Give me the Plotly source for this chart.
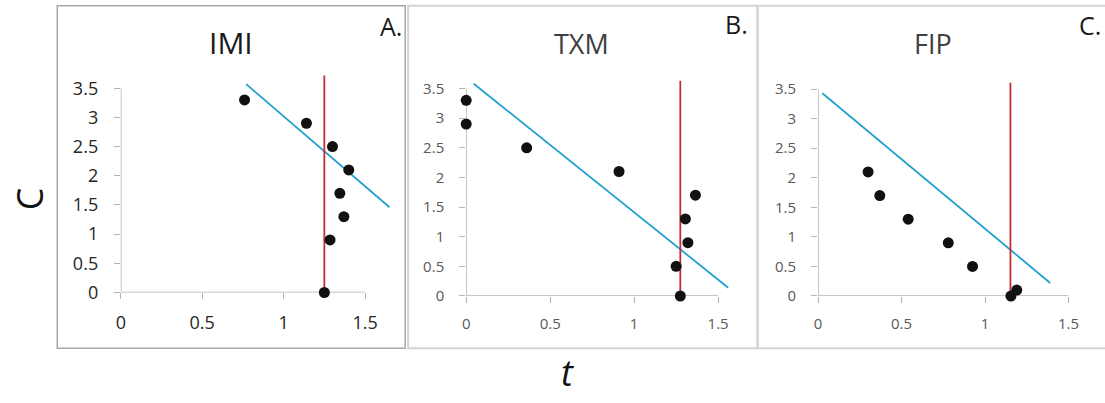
import plotly.graph_objects as go

W, H = 1105, 403

# ---------------- data ----------------
imi_t = [0.76, 1.14, 1.30, 1.40, 1.345, 1.37, 1.285, 1.25]
imi_C = [3.3, 2.9, 2.5, 2.1, 1.7, 1.3, 0.9, 0.0]
imi_red_t = [1.25, 1.25]
imi_red_C = [0.0, 3.72]
imi_blue_t = [0.77, 1.65]
imi_blue_C = [3.57, 1.46]

txm_t = [0.0, 0.0, 0.36, 0.91, 1.365, 1.305, 1.32, 1.25, 1.275]
txm_C = [3.3, 2.9, 2.5, 2.1, 1.7, 1.3, 0.9, 0.5, 0.0]
txm_red_t = [1.275, 1.275]
txm_red_C = [0.0, 3.63]
txm_blue_t = [0.045, 1.56]
txm_blue_C = [3.58, 0.14]

fip_t = [0.30, 0.37, 0.54, 0.78, 0.925, 1.155, 1.19]
fip_C = [2.1, 1.7, 1.3, 0.9, 0.5, 0.0, 0.1]
fip_red_t = [1.152, 1.152]
fip_red_C = [0.0, 3.61]
fip_blue_t = [0.026, 1.39]
fip_blue_C = [3.43, 0.22]

x_ticks = [0, 0.5, 1, 1.5]
x_ticklabels = ["0", "0.5", "1", "1.5"]
y_ticks = [0, 0.5, 1, 1.5, 2, 2.5, 3, 3.5]
y_ticklabels = ["0", "0.5", "1", "1.5", "2", "2.5", "3", "3.5"]

titles = ["IMI", "TXM", "FIP"]
letters = ["A.", "B.", "C."]

# ---------------- layout helpers ----------------
def px(x):
    return x / W

def py(y):
    return 1 - y / H

BLUE = "#22a0cf"
RED = "#c42c38"
AXIS = "#b8b3ae"
FONT = "Open Sans, Noto Sans, sans-serif"

panels = [
    dict(t=imi_t, C=imi_C, rt=imi_red_t, rC=imi_red_C, bt=imi_blue_t, bC=imi_blue_C,
         x0=116.3, xu=163.6, xmax=1.7, y0=300.7, yu=60.0, ymax=3.8,
         tfs=18, tcol="#262626"),
    dict(t=txm_t, C=txm_C, rt=txm_red_t, rC=txm_red_C, bt=txm_blue_t, bC=txm_blue_C,
         x0=463.3, xu=168.7, xmax=1.6, y0=304.3, yu=60.95, ymax=3.8,
         tfs=15, tcol="#595959"),
    dict(t=fip_t, C=fip_C, rt=fip_red_t, rC=fip_red_C, bt=fip_blue_t, bC=fip_blue_C,
         x0=816.7, xu=167.8, xmax=1.6, y0=304.3, yu=60.76, ymax=3.8,
         tfs=15, tcol="#595959"),
]

fig = go.Figure()
shapes = []
annotations = []

for i, p in enumerate(panels):
    n = "" if i == 0 else str(i + 1)
    xa, ya = "x" + n, "y" + n
    fig.add_trace(go.Scatter(x=p["bt"], y=p["bC"], mode="lines",
                             line=dict(color=BLUE, width=1.8),
                             xaxis=xa, yaxis=ya, showlegend=False, hoverinfo="skip"))
    fig.add_trace(go.Scatter(x=p["rt"], y=p["rC"], mode="lines",
                             line=dict(color=RED, width=1.8),
                             xaxis=xa, yaxis=ya, showlegend=False, hoverinfo="skip"))
    fig.add_trace(go.Scatter(x=p["t"], y=p["C"], mode="markers",
                             marker=dict(color="#111111", size=11),
                             cliponaxis=False,
                             xaxis=xa, yaxis=ya, showlegend=False))

    right = p["x0"] + p["xmax"] * p["xu"]
    top = p["y0"] - p["ymax"] * p["yu"]
    ax_common = dict(showgrid=False, zeroline=False, showline=False,
                     ticks="outside", ticklen=6, tickcolor=AXIS, tickwidth=1.2,
                     tickfont=dict(family=FONT, size=p["tfs"], color=p["tcol"]),
                     fixedrange=True)
    fig.layout["xaxis" + n] = dict(
        domain=[px(p["x0"]), px(right)], range=[0, p["xmax"]], anchor=ya,
        tickvals=x_ticks, ticktext=x_ticklabels, ticklabelstandoff=8, **ax_common)
    fig.layout["yaxis" + n] = dict(
        domain=[py(p["y0"]), py(top)], range=[0, p["ymax"]], anchor=xa,
        tickvals=y_ticks, ticktext=y_ticklabels, ticklabelstandoff=12, **ax_common)

    shapes.append(dict(type="line", xref=xa, yref=ya, x0=0, x1=x_ticks[-1], y0=0, y1=0,
                       line=dict(color=AXIS, width=1.5), layer="below"))
    shapes.append(dict(type="line", xref=xa, yref=ya, x0=0, x1=0, y0=0, y1=y_ticks[-1],
                       line=dict(color=AXIS, width=1.5), layer="below"))

# panel borders
shapes.append(dict(type="rect", xref="paper", yref="paper",
                   x0=px(52.5), x1=px(402), y0=py(358), y1=py(6),
                   line=dict(color="#a8a8a8", width=1.5), layer="below"))
shapes.append(dict(type="rect", xref="paper", yref="paper",
                   x0=px(405), x1=px(756), y0=py(358), y1=py(6),
                   line=dict(color="#d6d3d0", width=2), layer="below"))
shapes.append(dict(type="rect", xref="paper", yref="paper",
                   x0=px(756), x1=px(1108), y0=py(358), y1=py(6),
                   line=dict(color="#d6d3d0", width=2), layer="below"))

title_pos = [(227, 44, 30, "#1a1a1a"), (579, 45, 27, "#404040"), (932, 45, 27, "#404040")]
for txt, (x, y, s, c) in zip(titles, title_pos):
    annotations.append(dict(text=txt, x=px(x), y=py(y), xref="paper", yref="paper",
                            showarrow=False, xanchor="center", yanchor="middle",
                            font=dict(family=FONT, size=s, color=c)))
letter_pos = [(388, 27), (735, 25), (1090, 26)]
for txt, (x, y) in zip(letters, letter_pos):
    annotations.append(dict(text=txt, x=px(x), y=py(y), xref="paper", yref="paper",
                            showarrow=False, xanchor="center", yanchor="middle",
                            font=dict(family=FONT, size=25, color="#1a1a1a")))

annotations.append(dict(text="C", x=px(25), y=py(204), xref="paper", yref="paper",
                        showarrow=False, textangle=-90, xanchor="center", yanchor="middle",
                        font=dict(family=FONT, size=36, color="#111111")))
annotations.append(dict(text="<i>t</i>", x=px(565), y=py(383), xref="paper", yref="paper",
                        showarrow=False, xanchor="center", yanchor="middle",
                        font=dict(family=FONT, size=36, color="#111111")))

fig.update_layout(width=W, height=H, margin=dict(l=0, r=0, t=0, b=0),
                  paper_bgcolor="white", plot_bgcolor="rgba(0,0,0,0)",
                  shapes=shapes, annotations=annotations, showlegend=False)

fig.write_html("out.html", config={"displayModeBar": False},
               post_script="document.body.style.margin='0';document.body.style.overflow='hidden';")
